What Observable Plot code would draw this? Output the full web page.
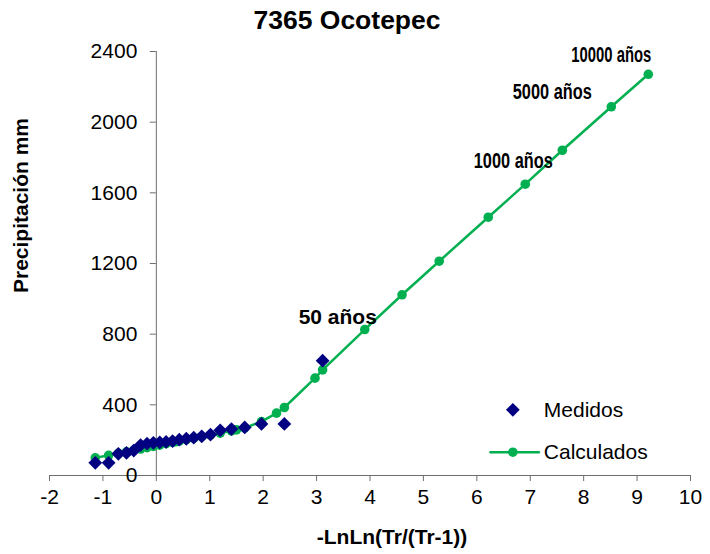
<!DOCTYPE html>
<html><head><meta charset="utf-8">
<script src="https://cdn.jsdelivr.net/npm/d3@7"></script>
<script src="https://cdn.jsdelivr.net/npm/@observablehq/plot@0.6"></script>
<style>
body{margin:0;background:#fff;}
#chart{width:710px;height:554px;}
</style></head><body><div id="chart"></div>
<script>
// ---- data ----
const titleText = "7365 Ocotepec";
const xLabel = "-LnLn(Tr/(Tr-1))";
const yLabel = "Precipitación mm";
const xTicks = [-2, -1, 0, 1, 2, 3, 4, 5, 6, 7, 8, 9, 10];
const yTicks = [0, 400, 800, 1200, 1600, 2000, 2400];
const seriesNames = ["Medidos", "Calculados"];

// measured values (Medidos)
const medX = [-1.143, -0.893, -0.711, -0.559, -0.423, -0.295, -0.174, -0.055, 0.064, 0.183, 0.304,
              0.430, 0.561, 0.700, 0.850, 1.014, 1.196, 1.406, 1.655, 1.968, 2.397, 3.113];
const medY = [72, 72, 123, 128, 141, 172, 180, 185, 187, 190, 195,
              203, 208, 214, 222, 232, 256, 263, 272, 292, 292, 650];

// calculated values (Calculados)
const calX = [-1.143, -0.893, -0.711, -0.559, -0.423, -0.295, -0.174, -0.055, 0.064, 0.183, 0.304, 0.367,
              0.430, 0.561, 0.700, 0.850, 1.014, 1.196, 1.406, 1.500, 1.655, 1.968, 2.250, 2.397,
              2.970, 3.113, 3.902, 4.600, 5.296, 6.214, 6.907, 7.601, 8.517, 9.210];
const calY = [100, 114, 125, 134, 142, 150, 158, 165, 172, 180, 187, 191,
              195, 203, 211, 220, 230, 240, 252, 258, 270, 305, 353, 385,
              551, 598, 826, 1023, 1213, 1462, 1649, 1841, 2087, 2271];

// return-period labels attached to calculated points
const annoText = ["50 años", "1000 años", "5000 años", "10000 años"];
const annoX = [3.902, 6.907, 8.517, 9.210];
const annoY = [826, 1649, 2087, 2271];

// ---- chart ----
const med = medX.map((x, i) => ({x, y: medY[i]}));
const cal = calX.map((x, i) => ({x, y: calY[i]}));
const GREEN = "#00B050", NAVY = "#000080", AX = "#6e6e6e";
const FONT = "'Liberation Sans', Arial, Helvetica, sans-serif";
const annoStyle = [
  {dx: -27, dy: -12, size: 21, len: null},
  {dx: -12, dy: -23, size: 22, len: 79},
  {dx: -59, dy: -15, size: 22, len: 79},
  {dx: -37, dy: -19, size: 22, len: 80}
];

const annoMarks = annoText.map((t, i) => Plot.text([{x: annoX[i], y: annoY[i], t}], {
  x: "x", y: "y", text: "t", dx: annoStyle[i].dx, dy: annoStyle[i].dy,
  fontWeight: "bold", fontSize: annoStyle[i].size, fill: "#000"
}));

const legendMarks = [
  Plot.dot([{x: 6.674, y: 372}], {x: "x", y: "y", symbol: "diamond2", r: 6.2, fill: NAVY}),
  Plot.text([{x: 7.254, y: 372, t: seriesNames[0]}], {x: "x", y: "y", text: "t", textAnchor: "start", fontSize: 21}),
  Plot.line([{x: 6.256, y: 132}, {x: 7.161, y: 132}], {x: "x", y: "y", stroke: GREEN, strokeWidth: 2.5}),
  Plot.dot([{x: 6.674, y: 132}], {x: "x", y: "y", r: 4.8, fill: GREEN}),
  Plot.text([{x: 7.254, y: 132, t: seriesNames[1]}], {x: "x", y: "y", text: "t", textAnchor: "start", fontSize: 21})
];

const chart = Plot.plot({
  width: 710, height: 554,
  marginLeft: 49, marginRight: 20, marginTop: 51, marginBottom: 79,
  x: {domain: [-2, 10], axis: null},
  y: {domain: [0, 2400], axis: null},
  style: {fontFamily: FONT, fontSize: "21px", color: "#000", background: "#fff", overflow: "visible"},
  marks: [
    Plot.ruleY([0], {stroke: AX}),
    Plot.ruleX([0], {y1: 0, y2: 2400, stroke: AX}),
    Plot.axisX(xTicks, {tickSize: 6, tickPadding: 8, tickFormat: d => String(d), stroke: AX, fill: "#000", fontSize: 21, label: null}),
    Plot.ruleY(yTicks, {x1: -0.112, x2: 0, stroke: AX}),
    Plot.text(yTicks, {x: 0, y: d => d, text: d => String(d), textAnchor: "end", dx: -19, fontSize: 21, fill: "#000"}),
    Plot.line(cal, {x: "x", y: "y", stroke: GREEN, strokeWidth: 2.5}),
    Plot.dot(cal, {x: "x", y: "y", r: 4.8, fill: GREEN}),
    Plot.dot(med, {x: "x", y: "y", symbol: "diamond2", r: 6.2, fill: NAVY}),
    ...annoMarks,
    ...legendMarks,
    Plot.text([titleText], {frameAnchor: "top", textAnchor: "middle", lineAnchor: "middle", text: d => d, dx: -23, dy: -31, fontWeight: "bold", fontSize: 26.5}),
    Plot.text([xLabel], {frameAnchor: "bottom", textAnchor: "middle", lineAnchor: "middle", text: d => d, dx: 22, dy: 62, fontWeight: "bold", fontSize: 21}),
    Plot.text([yLabel], {frameAnchor: "left", textAnchor: "middle", lineAnchor: "middle", text: d => d, rotate: -90, dx: -28, dy: -58, fontWeight: "bold", fontSize: 21})
  ]
});
// condense the long return-period labels as in the reference
d3.select(chart).selectAll("text").each(function () {
  const i = annoText.indexOf(this.textContent);
  if (i >= 0 && annoStyle[i].len) {
    d3.select(this).attr("textLength", annoStyle[i].len).attr("lengthAdjust", "spacingAndGlyphs");
  }
});
document.getElementById("chart").appendChild(chart);
</script>
</body></html>
